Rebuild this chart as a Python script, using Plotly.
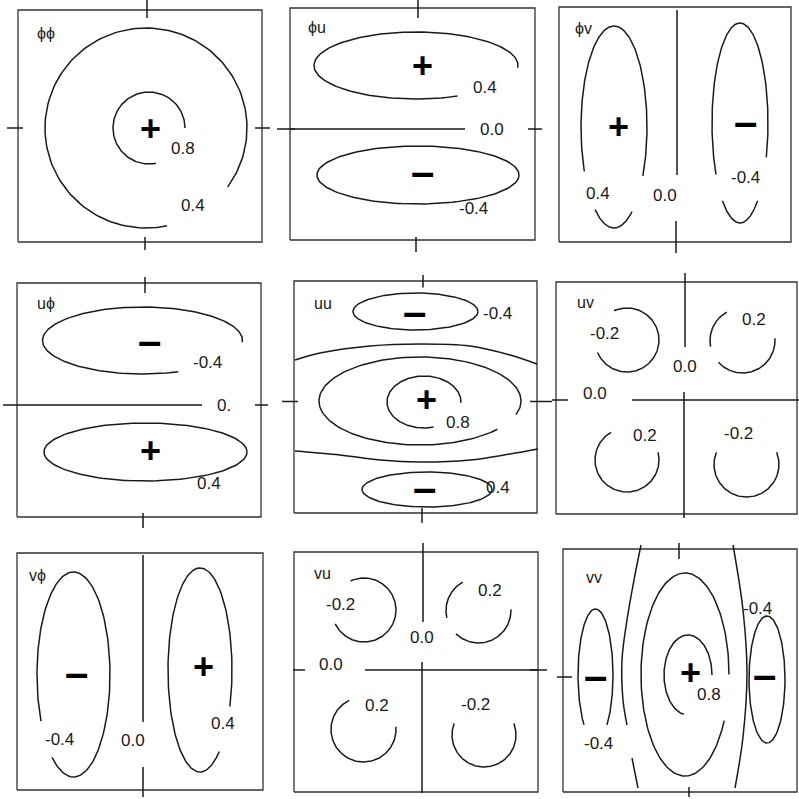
import numpy as np
import plotly.graph_objects as go

# ---- data (lag units, each panel centred on its zero lag) ----
PANELS = ["ϕϕ", "ϕu", "ϕv", "uϕ", "uu", "uv", "vϕ", "vu", "vv"]

# frame of each panel
BOX_X0 = [-1.29, -1.27, -1.18, -1.27, -1.29, -1.29, -1.26, -1.29, -1.22]
BOX_X1 = [1.15, 1.18, 1.14, 1.17, 1.14, 1.12, 1.20, 1.15, 1.12]
BOX_Y0 = [-1.14, -1.11, -1.16, -1.12, -1.115, -1.14, -1.18, -1.22, -1.16]
BOX_Y1 = [1.18, 1.21, 1.19, 1.22, 1.205, 1.18, 1.19, 1.18, 1.27]
TITLE_X = [-1.12, -1.11, -1.04, -1.09, -1.11, -1.10, -1.16, -1.11, -1.01]
TITLE_Y = [0.95, 1.02, 0.98, 1.02, 0.985, 0.98, 0.97, 0.97, 0.99]

# contour arcs: panel, centre, radii, start / end angle (deg)
ARC_PANEL = [0, 0, 1, 1, 2, 2, 2, 2, 3, 3, 4, 4, 4, 4,
             5, 5, 5, 5, 5, 6, 6, 7, 7, 7, 7, 7, 8, 8, 8, 8]
ARC_CX = [-0.01, 0.02, -0.01, 0.01, -0.63, -0.63, 0.63, 0.63, -0.015, 0.015,
          -0.075, 0.04, -0.03, 0.01, -0.58, 0.575, 0.575, -0.58, 0.615, -0.695, 0.57,
          -0.59, 0.555, 0.555, -0.595, 0.61, 0.0, 0.03, -0.895, 0.82]
ARC_CY = [0.0, 0.0, 0.635, -0.46, -0.01, -0.01, 0.03, 0.03, 0.645, -0.47,
          0.90, -0.88, 0.005, -0.005, 0.60, 0.595, 0.595, -0.60, -0.645, -0.025, 0.02,
          0.60, 0.595, 0.595, -0.595, -0.65, 0.015, 0.01, 0.01, -0.035]
ARC_RX = [1.01, 0.36, 1.02, 1.01, 0.33, 0.33, 0.28, 0.28, 1.00, 1.015,
          0.625, 0.65, 1.01, 0.37, 0.32, 0.325, 0.325, 0.32, 0.325, 0.365, 0.32,
          0.32, 0.325, 0.325, 0.325, 0.32, 0.44, 0.24, 0.175, 0.18]
ARC_RY = [1.00, 0.36, 0.335, 0.29, 1.01, 1.01, 1.00, 1.00, 0.335, 0.29,
          0.185, 0.175, 0.44, 0.26, 0.32, 0.325, 0.325, 0.32, 0.325, 1.025, 1.02,
          0.32, 0.325, 0.325, 0.325, 0.32, 1.015, 0.40, 0.66, 0.635]
ARC_T0 = [-36, 0, -4, 0, -29, -125, -20, -129, -3, 0,
          0, 0, -18, -2, -157, 119, 222, 120, 158, -126, -21,
          -154, 119, 226, 116, 159, 0, 0, -49, 0]
ARC_T1 = [282, 281, 294, 360, 206, -57, 211, -51, 291, 360,
          360, 360, 320, 285, 114, 191, 364, 374, 382, 207, 307,
          115, 193, 362, 365, 381, 333, 260, 229, 360]

# straight pieces: axis ticks and zero contours
SEG_PANEL = [0, 0, 0, 0,
             1, 1, 1, 1, 1,
             2, 2,
             3, 3, 3, 3, 3,
             4, 4, 4, 4,
             5, 5, 5, 5,
             6, 6,
             7, 7, 7, 7, 7,
             8, 8, 8]
SEG_X0 = [0.0, -0.02, -1.40, 1.08,
          0.01, -0.01, -1.40, 1.11, -1.27,
          0.0, -0.01,
          0.01, -0.01, -1.41, 1.11, -1.27,
          0.0, -0.01, -1.41, 1.07,
          -1.40, -0.53, 0.0, -0.01,
          0.0, 0.0,
          0.0, -0.01, -1.30, -0.58, 1.07,
          -0.06, 0.04, -1.28]
SEG_X1 = [0.0, -0.02, -1.24, 1.23,
          0.01, -0.01, -1.22, 1.25, 0.48,
          0.0, -0.01,
          0.01, -0.01, -1.27, 1.24, 0.58,
          0.0, -0.01, -1.25, 1.29,
          -1.17, 1.14, 0.0, -0.01,
          0.0, 0.0,
          0.0, -0.01, -1.18, 1.15, 1.24,
          -0.06, 0.04, -1.13]
SEG_Y0 = [1.10, -1.09, 0.0, 0.0,
          1.11, -1.08, 0.0, 0.0, 0.0,
          1.16, -0.95,
          1.12, -1.08, 0.0, 0.0, 0.0,
          1.14, -1.065, 0.0, 0.0,
          0.0, 0.0, 1.27, 0.08,
          1.17, -0.95,
          1.27, 0.08, 0.0, 0.0, 0.0,
          1.17, -1.11, -0.01]
SEG_Y1 = [1.28, -1.22, 0.0, 0.0,
          1.29, -1.23, 0.0, 0.0, 0.0,
          -0.49, -1.27,
          1.28, -1.23, 0.0, 0.0, 0.0,
          1.265, -1.215, 0.0, 0.0,
          0.0, 0.0, 0.53, -1.18,
          -0.50, -1.25,
          0.48, -1.23, 0.0, 0.0, 0.0,
          1.33, -1.21, -0.01]

# curved zero contours (uu and vv)
CURVE_PANEL = [4, 4, 8, 8, 8]
CURVE_X = [[-1.28, -1.03, -0.53, -0.03, 0.47, 0.87, 1.14],
           [-1.28, -0.83, -0.43, -0.03, 0.47, 0.87, 1.15],
           [-0.44, -0.51, -0.58, -0.63, -0.62, -0.58],
           [-0.53, -0.47],
           [0.48, 0.58, 0.62, 0.58, 0.50]]
CURVE_Y = [[0.415, 0.485, 0.555, 0.575, 0.555, 0.465, 0.375],
           [-0.495, -0.535, -0.585, -0.605, -0.585, -0.525, -0.475],
           [1.31, 0.96, 0.56, 0.16, -0.24, -0.49],
           [-0.82, -1.12],
           [1.31, 0.66, 0.03, -0.61, -1.12]]

# contour labels
LABEL_PANEL = [0, 0, 1, 1, 1, 2, 2, 2, 3, 3, 3, 4, 4, 4,
               5, 5, 5, 5, 5, 5, 6, 6, 6, 7, 7, 7, 7, 7, 7, 8, 8, 8]
LABEL_X = [0.36, 0.46, 0.68, 0.75, 0.56, -0.79, -0.12, 0.68, 0.63, 0.80, 0.65,
           0.74, 0.35, 0.75, -0.81, 0.69, 0.0, -0.90, -0.40, 0.53,
           -0.84, -0.10, 0.80, -0.83, 0.67, -0.01, -0.92, -0.46, 0.52,
           0.24, -0.87, 0.72]
LABEL_Y = [-0.20, -0.77, 0.42, 0.0, -0.79, -0.67, -0.69, -0.51, 0.43, 0.0, -0.78,
           0.885, -0.205, -0.855, 0.67, 0.81, 0.34, 0.07, -0.35, -0.33,
           -0.67, -0.68, -0.51, 0.66, 0.80, 0.33, 0.06, -0.35, -0.34,
           -0.18, -0.67, 0.68]
LABEL_TEXT = ["0.8", "0.4", "0.4", "0.0", "-0.4", "0.4", "0.0", "-0.4",
              "-0.4", "0.", "0.4", "-0.4", "0.8", "0.4",
              "-0.2", "0.2", "0.0", "0.0", "0.2", "-0.2",
              "-0.4", "0.0", "0.4", "-0.2", "0.2", "0.0", "0.0", "0.2", "-0.2",
              "0.8", "-0.4", "-0.4"]

# sign of each lobe
SIGN_PANEL = [0, 1, 1, 2, 2, 3, 3, 4, 4, 4, 6, 6, 8, 8, 8]
SIGN_X = [0.03, 0.05, 0.05, -0.59, 0.68, 0.05, 0.06, -0.09, 0.03, 0.01,
          -0.67, 0.60, -0.90, 0.05, 0.79]
SIGN_Y = [0.0, 0.64, -0.42, 0.0, 0.05, 0.65, -0.45, 0.905, 0.025, -0.855,
          0.0, 0.06, 0.01, 0.04, 0.02]
SIGN_TEXT = ["+", "+", "–", "+", "–", "–", "+", "–", "+", "–",
             "–", "+", "–", "+", "–"]

# ---- layout (pixels) ----
W = H = 799
SCALE = 100.0
COL_PX = [(0, 272), (272, 552), (552, 799)]
ROW_PX = [(0, 262), (262, 537), (537, 799)]
ORIGIN_PX = [(147, 128), (417, 129), (677, 126),
             (144, 405), (423, 401.5), (685, 400),
             (143, 672), (423, 670), (685, 676)]

FONT = "Liberation Sans, Arial, sans-serif"
INK = "#1a1a1a"


def axes(i):
    if i == 0:
        return "x", "y"
    return f"x{i + 1}", f"y{i + 1}"


fig = go.Figure()
layout = {}
annotations = []

for i in range(9):
    xa, ya = axes(i)
    key = "" if i == 0 else str(i + 1)
    ox, oy = ORIGIN_PX[i]
    c0, c1 = COL_PX[i % 3]
    r0, r1 = ROW_PX[i // 3]
    layout[f"xaxis{key}"] = dict(domain=[c0 / W, c1 / W],
                                 range=[(c0 - ox) / SCALE, (c1 - ox) / SCALE],
                                 visible=False, anchor=ya, fixedrange=True)
    layout[f"yaxis{key}"] = dict(domain=[1 - r1 / H, 1 - r0 / H],
                                 range=[(oy - r1) / SCALE, (oy - r0) / SCALE],
                                 visible=False, anchor=xa, fixedrange=True)

    # frame
    fig.add_trace(go.Scatter(
        x=[BOX_X0[i], BOX_X1[i], BOX_X1[i], BOX_X0[i], BOX_X0[i]],
        y=[BOX_Y0[i], BOX_Y0[i], BOX_Y1[i], BOX_Y1[i], BOX_Y0[i]],
        mode="lines", line=dict(color="#333333", width=1.3),
        xaxis=xa, yaxis=ya, hoverinfo="skip"))

    # arcs + straight segments in one trace
    xs, ys = [], []
    for k in range(len(ARC_PANEL)):
        if ARC_PANEL[k] != i:
            continue
        t = np.radians(np.linspace(ARC_T0[k], ARC_T1[k], 160))
        xs += list(ARC_CX[k] + ARC_RX[k] * np.cos(t)) + [None]
        ys += list(ARC_CY[k] + ARC_RY[k] * np.sin(t)) + [None]
    for k in range(len(SEG_PANEL)):
        if SEG_PANEL[k] != i:
            continue
        xs += [SEG_X0[k], SEG_X1[k], None]
        ys += [SEG_Y0[k], SEG_Y1[k], None]
    fig.add_trace(go.Scatter(x=xs, y=ys, mode="lines",
                             line=dict(color=INK, width=1.5),
                             xaxis=xa, yaxis=ya, hoverinfo="skip"))

    for k in range(len(CURVE_PANEL)):
        if CURVE_PANEL[k] != i:
            continue
        fig.add_trace(go.Scatter(x=CURVE_X[k], y=CURVE_Y[k], mode="lines",
                                 line=dict(color=INK, width=1.5, shape="spline"),
                                 xaxis=xa, yaxis=ya, hoverinfo="skip"))

    annotations.append(dict(x=TITLE_X[i], y=TITLE_Y[i], xref=xa, yref=ya,
                            text=PANELS[i], showarrow=False, xanchor="left",
                            font=dict(family=FONT, size=16, color=INK)))

for k in range(len(LABEL_PANEL)):
    xa, ya = axes(LABEL_PANEL[k])
    annotations.append(dict(x=LABEL_X[k], y=LABEL_Y[k], xref=xa, yref=ya,
                            text=LABEL_TEXT[k], showarrow=False,
                            font=dict(family=FONT, size=17, color=INK)))

for k in range(len(SIGN_PANEL)):
    xa, ya = axes(SIGN_PANEL[k])
    size = 36 if SIGN_TEXT[k] == "+" else 42
    annotations.append(dict(x=SIGN_X[k], y=SIGN_Y[k], xref=xa, yref=ya,
                            text="<b>" + SIGN_TEXT[k] + "</b>", showarrow=False,
                            font=dict(family=FONT, size=size, color="#000000")))

fig.update_layout(
    width=W, height=H,
    margin=dict(l=0, r=0, t=0, b=0),
    showlegend=False,
    plot_bgcolor="white", paper_bgcolor="white",
    annotations=annotations,
    **layout
)

# the page body has a default 8px margin; drop it so the figure fills the window
fig.write_html("out.html", config={"displayModeBar": False},
               post_script="document.body.style.margin='0';")
